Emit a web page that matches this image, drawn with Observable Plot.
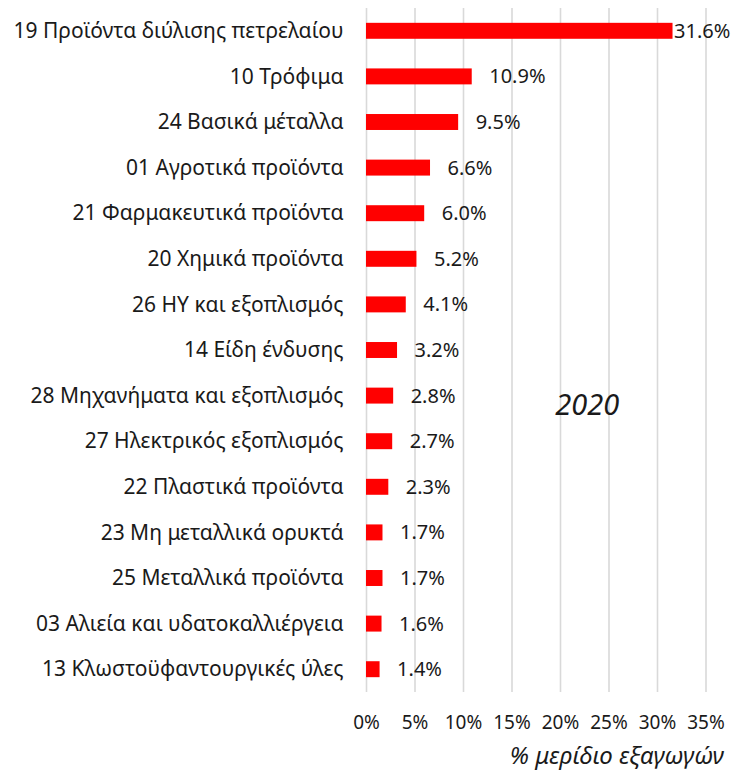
<!DOCTYPE html>
<html>
<head>
<meta charset="utf-8">
<script src="https://cdn.jsdelivr.net/npm/d3@7"></script>
<script src="https://cdn.jsdelivr.net/npm/@observablehq/plot@0.6"></script>
<style>
  body { margin: 0; background: #fff; }
  #chart svg { display: block; }
</style>
</head>
<body>
<div id="chart"></div>
<script>
const categories = [
  "19 Προϊόντα διύλισης πετρελαίου",
  "10 Τρόφιμα",
  "24 Βασικά μέταλλα",
  "01 Αγροτικά προϊόντα",
  "21 Φαρμακευτικά προϊόντα",
  "20 Χημικά προϊόντα",
  "26 ΗΥ και εξοπλισμός",
  "14 Είδη ένδυσης",
  "28 Μηχανήματα και εξοπλισμός",
  "27 Ηλεκτρικός εξοπλισμός",
  "22 Πλαστικά προϊόντα",
  "23 Μη μεταλλικά ορυκτά",
  "25 Μεταλλικά προϊόντα",
  "03 Αλιεία και υδατοκαλλιέργεια",
  "13 Κλωστοϋφαντουργικές ύλες"
];
const values = [31.6, 10.9, 9.5, 6.6, 6.0, 5.2, 4.1, 3.2, 2.8, 2.7, 2.3, 1.7, 1.7, 1.6, 1.4];
const xTicks = [0, 5, 10, 15, 20, 25, 30, 35];
const yearLabel = "2020";
const axisTitle = "% μερίδιο εξαγωγών";

const rows = categories.map((c, i) => ({category: c, value: values[i]}));
const font = "'Noto Sans', 'DejaVu Sans', sans-serif";

const plot = Plot.plot({
  width: 736,
  height: 775,
  marginLeft: 366,
  marginRight: 30.5,
  marginTop: 8,
  marginBottom: 83,
  style: {fontFamily: font, background: "#fff", color: "#1a1a1a"},
  x: {domain: [0, 35], ticks: xTicks},
  y: {domain: categories, paddingInner: 0.65, paddingOuter: 0.325, round: false},
  marks: [
    Plot.gridX(xTicks, {stroke: "#d9d9d9", strokeOpacity: 1, strokeWidth: 1.6}),
    Plot.barX(rows, {x: "value", y: "category", fill: "#ff0000"}),
    Plot.text(rows.filter(d => d.value > 30), {x: "value", y: "category", text: d => d.value.toFixed(1) + "%", textAnchor: "start", dx: 1, fontSize: 20, fill: "#1a1a1a"}),
    Plot.text(rows.filter(d => d.value <= 30), {x: "value", y: "category", text: d => d.value.toFixed(1) + "%", textAnchor: "start", dx: 17, fontSize: 20, fill: "#1a1a1a"}),
    Plot.axisY({tickSize: 0, tickPadding: 23, fontSize: 21, label: null}),
    Plot.axisX(xTicks, {tickSize: 0, tickPadding: 23, fontSize: 19, tickFormat: d => d + "%", label: null}),
    Plot.text([axisTitle], {frameAnchor: "bottom-right", dx: 18, dy: 71, fontSize: 24, fontStyle: "italic", textAnchor: "end", fill: "#1a1a1a"}),
    Plot.text([yearLabel], {frameAnchor: "middle", dx: 51, dy: 55, fontSize: 29, fontStyle: "italic", fill: "#1a1a1a"})
  ]
});
document.getElementById("chart").appendChild(plot);
</script>
</body>
</html>
